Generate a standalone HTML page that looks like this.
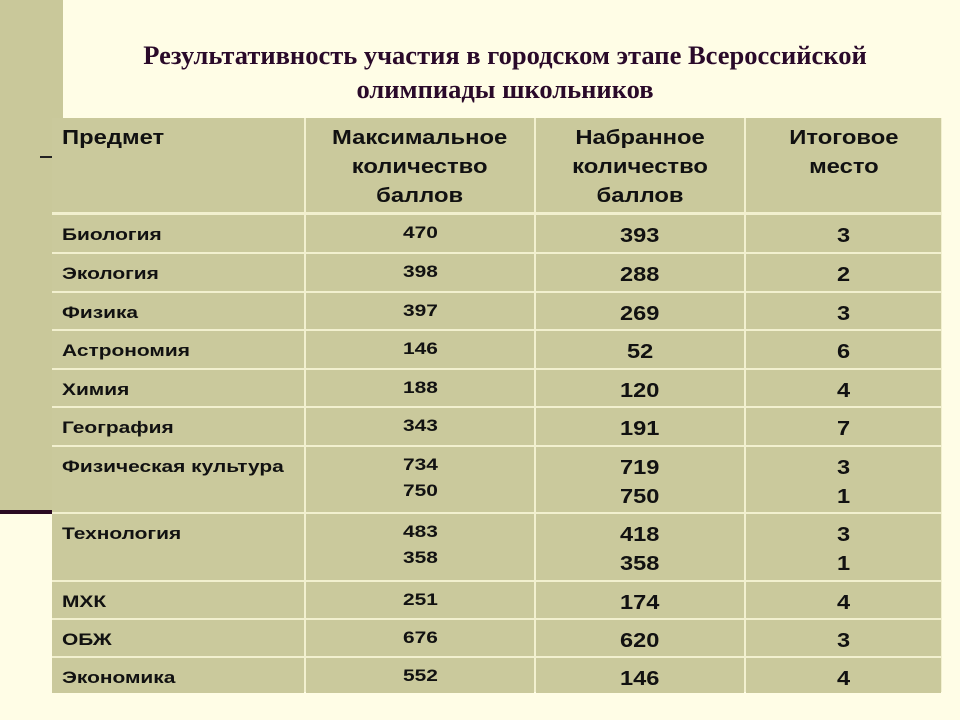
<!DOCTYPE html>
<html><head><meta charset="utf-8">
<style>
body{margin:0;width:960px;height:720px;background:#fffde6;position:relative;overflow:hidden;font-family:"Liberation Sans",Arial,sans-serif;}
#lbar{position:absolute;left:0;top:0;width:63px;height:512px;background:#c9c89a;}
#lline{position:absolute;left:0;top:510px;width:52px;height:4px;background:#2a0a22;}
#tick{position:absolute;left:40px;top:156px;width:12px;height:2px;background:#222;}
.title{position:absolute;left:80px;width:850px;text-align:center;font-family:"Liberation Serif",serif;font-weight:bold;font-size:26.5px;color:#2a0a2a;}
#tbl{position:absolute;left:52px;top:118px;width:890px;height:574px;background:#f2f0cf;}
.c{position:absolute;background:#cac99c;font-weight:bold;color:#111;box-sizing:border-box;}
.c .t{display:inline-block;}
.h{font-size:20px;line-height:29px;text-align:center;padding-top:6px;}
.h .t{transform:scaleX(1.19);}
.s{font-size:17px;padding:5px 0 0 10px;line-height:30px;}
.s .t,.m .t{transform:scaleX(1.23);transform-origin:left center;}
.m{font-size:17px;padding:5px 0 0 97px;line-height:26px;}
.n{font-size:20px;line-height:29px;text-align:center;padding-top:7px;}
.n .t{transform:scaleX(1.18);}
</style></head><body>
<div id="lbar"></div>
<div id="lline"></div>
<div id="tick"></div>
<div class="title" style="top:40px">Результативность участия в городском этапе Всероссийской</div>
<div class="title" style="top:74px">олимпиады школьников</div>
<div id="tbl"></div>
<script>
const subjects=["Биология","Экология","Физика","Астрономия","Химия","География","Физическая культура","Технология","МХК","ОБЖ","Экономика"];
const maxScores=[["470"],["398"],["397"],["146"],["188"],["343"],["734","750"],["483","358"],["251"],["676"],["552"]];
const gotScores=[["393"],["288"],["269"],["52"],["120"],["191"],["719","750"],["418","358"],["174"],["620"],["146"]];
const places=[["3"],["2"],["3"],["6"],["4"],["7"],["3","1"],["3","1"],["4"],["3"],["4"]];
const headers=["Предмет","Максимальное<br>количество<br>баллов","Набранное<br>количество<br>баллов","Итоговое<br>место"];
const colX=[52,305,535,745,942];
const rowY=[118,213,252,291,329,368,406,445,512,580,618,656,692];
function cell(x0,x1,y0,y1,cls,html,name){
  const d=document.createElement('div');
  d.className='c '+cls;
  d.style.left=(x0+(x0===52?0:1))+'px';
  d.style.top=(y0+(y0===118?0:2))+'px';
  d.style.width=(x1-x0-(x0===52?1:2))+'px';
  d.style.height=(y1-y0-(y0===118?1:2)+ (y1===692?1:0))+'px';
  d.innerHTML='<span class="t">'+html+'</span>';
  
  
  document.body.appendChild(d);
}
headers.forEach((h,i)=>{
  cell(colX[i],colX[i+1],rowY[0],rowY[1],'h',h,'header-cell');
});
const first=document.querySelectorAll('.h')[0];
first.style.textAlign='left';
first.style.paddingLeft='10px';
first.firstChild.style.transformOrigin='left center';
subjects.forEach((s,r)=>{
  const y0=rowY[r+1],y1=rowY[r+2];
  cell(colX[0],colX[1],y0,y1,'s',s,'subject-cell');
  cell(colX[1],colX[2],y0,y1,'m',maxScores[r].join('<br>'),'max-score-cell');
  cell(colX[2],colX[3],y0,y1,'n',gotScores[r].join('<br>'),'scored-cell');
  cell(colX[3],colX[4],y0,y1,'n',places[r].join('<br>'),'place-cell');
});
</script>
</body></html>
